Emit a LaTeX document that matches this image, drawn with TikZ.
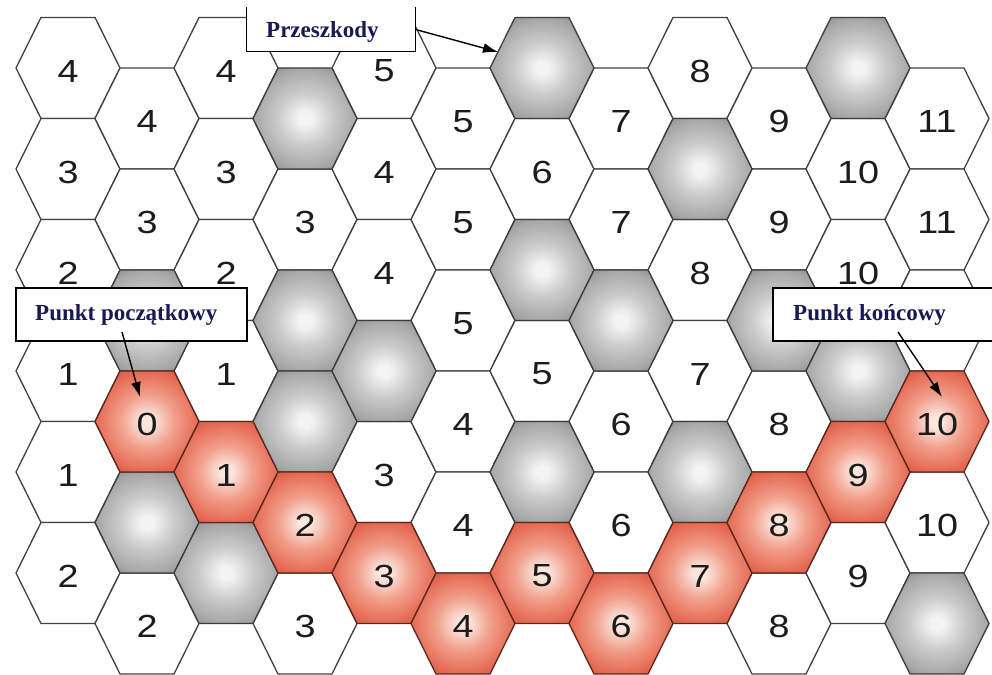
\documentclass[tikz,border=0pt]{standalone}
\usepackage{fontspec}
\setmainfont{Liberation Serif}
\setsansfont{Liberation Sans}
\usetikzlibrary{arrows.meta}
\definecolor{gA}{RGB}{244,244,244}
\definecolor{gB}{RGB}{203,203,203}
\definecolor{gC}{RGB}{166,166,166}
\definecolor{gD}{RGB}{140,140,140}
\definecolor{oA}{RGB}{251,230,222}
\definecolor{oB}{RGB}{241,160,140}
\definecolor{oC}{RGB}{229,105,83}
\definecolor{oD}{RGB}{212,86,64}
\definecolor{lineW}{RGB}{65,65,65}
\definecolor{lineG}{RGB}{60,60,60}
\definecolor{lineO}{RGB}{90,40,30}
\definecolor{numcol}{RGB}{28,28,28}
\definecolor{navy}{RGB}{25,25,85}
\pgfdeclareradialshading{grayhex}{\pgfpoint{0bp}{0bp}}{color(0bp)=(gA); color(3bp)=(gA); color(13bp)=(gB); color(25bp)=(gC); color(30bp)=(gD); color(50bp)=(gD)}
\pgfdeclareradialshading{orangehex}{\pgfpoint{0bp}{0bp}}{color(0bp)=(oA); color(3bp)=(oA); color(13bp)=(oB); color(25bp)=(oC); color(30bp)=(oD); color(50bp)=(oD)}
\begin{document}
\begin{tikzpicture}[x=1pt,y=-1pt,
  hexw/.style={draw=lineW,fill=white,line width=1.3pt},
  hexg/.style={draw=lineG,shade,shading=grayhex,line width=1.3pt},
  hexo/.style={draw=lineO,shade,shading=orangehex,line width=1.3pt},
  num/.style={font=\sffamily\fontsize{32}{32}\selectfont,text=numcol,inner sep=0pt},
  lbl/.style={font=\fontsize{23}{27}\selectfont\bfseries,text=navy,inner sep=0pt},
  boxn/.style={fill=white,draw=black,line width=1.3pt,inner sep=0pt},
  arr/.style={draw=black,line width=1.4pt,-{Latex[length=15pt,width=10pt]}}]
\useasboundingbox (0,0) rectangle (992,674);
\fill[white] (0,0) rectangle (992,674);
% white cells
\foreach \c/\r/\l in {0/0/4,0/1/3,0/2/2,0/3/1,0/4/1,0/5/2,
  1/0/4,1/1/3,1/5/2,
  2/0/4,2/1/3,2/2/2,2/3/1,
  3/1/3,3/5/3,
  4/0/5,4/1/4,4/2/4,4/4/3,
  5/0/5,5/1/5,5/2/5,5/3/4,5/4/4,
  6/1/6,6/3/5,
  7/0/7,7/1/7,7/3/6,7/4/6,
  8/0/8,8/2/8,8/3/7,
  9/0/9,9/1/9,9/3/8,9/5/8,
  10/1/10,10/2/10,10/5/9,
  11/0/11,11/1/11,11/2/{},11/4/10}{
  \pgfmathsetmacro{\cx}{68+79*\c}
  \pgfmathsetmacro{\cy}{68+101*\r+50.5*mod(\c,2)}
  \path[hexw] (\cx,\cy) +(-52,0) -- +(-27,-50.5) -- +(27,-50.5) -- +(52,0) -- +(27,50.5) -- +(-27,50.5) -- cycle;
  \node[num] (h\c-\r) at (\cx,\cy+3) {\scalebox{1.18}[1]{\l}};
}
% obstacle cells
\foreach \c/\r in {1/2,1/4,2/5,3/0,3/2,3/3,4/3,6/0,6/2,6/4,7/2,8/1,8/4,9/2,10/0,10/3,11/5}{
  \pgfmathsetmacro{\cx}{68+79*\c}
  \pgfmathsetmacro{\cy}{68+101*\r+50.5*mod(\c,2)}
  \path[hexg] (\cx,\cy) +(-52,0) -- +(-27,-50.5) -- +(27,-50.5) -- +(52,0) -- +(27,50.5) -- +(-27,50.5) -- cycle;
  \node[inner sep=0pt] (h\c-\r) at (\cx,\cy) {};
}
% path cells
\foreach \c/\r/\l in {1/3/0,2/4/1,3/4/2,4/5/3,5/5/4,6/5/5,7/5/6,8/5/7,9/4/8,10/4/9,11/3/10}{
  \pgfmathsetmacro{\cx}{68+79*\c}
  \pgfmathsetmacro{\cy}{68+101*\r+50.5*mod(\c,2)}
  \path[hexo] (\cx,\cy) +(-52,0) -- +(-27,-50.5) -- +(27,-50.5) -- +(52,0) -- +(27,50.5) -- +(-27,50.5) -- cycle;
  \node[num] (h\c-\r) at (\cx,\cy+3) {\scalebox{1.18}[1]{\l}};
}
% label boxes
\node[boxn,draw=none,minimum width=168pt,minimum height=43pt] (b1) at (331,29.5) {};
\draw[line width=1.3pt] (b1.north west) -- (b1.south west) -- (b1.south east) -- (b1.north east);
\node[lbl,anchor=base west] (t1) at (266,38) {Przeszkody};
\node[boxn,minimum width=231pt,minimum height=53pt] (b2) at (131.5,314.5) {};
\node[lbl,anchor=base west] (t2) at (35,320) {Punkt początkowy};
\node[boxn,minimum width=220pt,minimum height=53pt] (b3) at (883,314.5) {};
\node[lbl,anchor=base west] (t3) at (793,320) {Punkt końcowy};
% arrows
\coordinate (e1) at (498,52);
\coordinate (s2) at (122,332);
\coordinate (e2) at (140,397);
\coordinate (s3) at (898,332);
\coordinate (e3) at (942,397);
\draw[arr] (b1.east) -- (e1);
\draw[arr] (s2) -- (e2);
\draw[arr] (s3) -- (e3);
\end{tikzpicture}
\end{document}
